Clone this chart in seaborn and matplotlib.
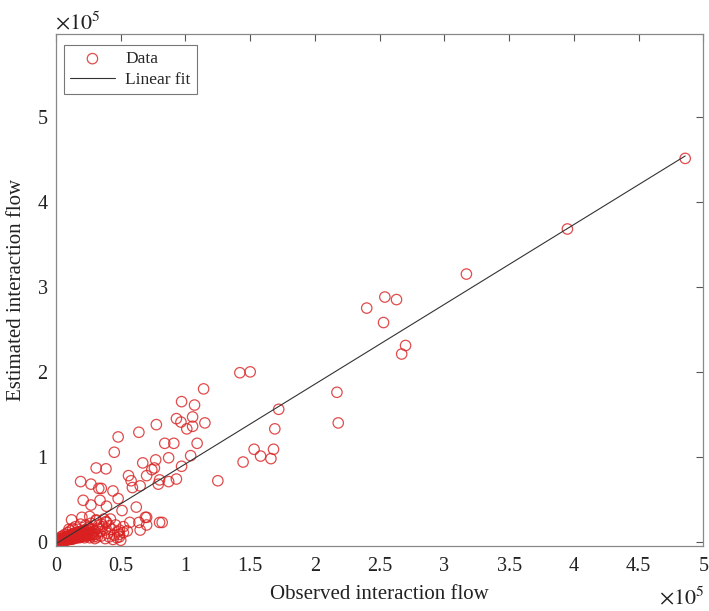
import numpy as np
import pandas as pd
import matplotlib
matplotlib.use("Agg")
import matplotlib.pyplot as plt
import seaborn as sns

# Values in units of 1e5
obs_outer = [4.86, 3.95, 3.17, 2.54, 2.63, 2.40, 2.53, 2.70, 2.67, 2.17, 2.18,
             1.42, 1.50, 1.14, 0.97, 1.07, 0.93, 0.965, 1.055, 1.01, 1.055, 1.15,
             1.72, 1.69, 0.775, 0.64, 0.48, 0.45, 0.84, 0.91, 1.09, 0.87, 1.04,
             0.97, 0.77, 0.67, 0.74, 0.76, 0.70, 0.56, 0.58, 0.59, 0.65, 0.79,
             0.87, 0.93, 0.80, 1.25, 1.445, 1.53, 1.58, 1.66, 1.68, 0.386, 0.35,
             0.44, 0.48, 0.62, 0.51, 0.39, 0.80, 0.82, 0.70, 0.64, 0.70, 0.65,
             0.57, 0.52, 0.49, 0.49, 0.31, 0.19, 0.27, 0.33, 0.21, 0.27, 0.34,
             0.12, 0.20, 0.26, 0.31, 0.386, 0.69]
est_outer = [4.51, 3.68, 3.15, 2.88, 2.85, 2.75, 2.58, 2.31, 2.21, 1.76, 1.40,
             1.99, 2.00, 1.80, 1.65, 1.61, 1.45, 1.41, 1.47, 1.33, 1.36, 1.40,
             1.56, 1.33, 1.38, 1.29, 1.235, 1.055, 1.16, 1.16, 1.16, 0.99, 1.015,
             0.89, 0.965, 0.93, 0.85, 0.87, 0.78, 0.78, 0.72, 0.64, 0.66, 0.68,
             0.71, 0.74, 0.73, 0.72, 0.94, 1.09, 1.01, 0.98, 1.09, 0.86, 0.63,
             0.60, 0.51, 0.41, 0.37, 0.42, 0.23, 0.23, 0.29, 0.23, 0.20, 0.14,
             0.23, 0.18, 0.06, 0.14, 0.87, 0.71, 0.68, 0.63, 0.49, 0.435, 0.49,
             0.26, 0.29, 0.30, 0.26, 0.24, 0.29]

obs_core = [0.00, 0.01, 0.01, 0.02, 0.02, 0.03, 0.03, 0.03, 0.04, 0.04, 0.05, 0.05,
            0.06, 0.06, 0.06, 0.07, 0.07, 0.08, 0.08, 0.09, 0.09, 0.10, 0.10, 0.11,
            0.11, 0.12, 0.12, 0.13, 0.13, 0.14, 0.14, 0.15, 0.15, 0.16, 0.16, 0.17,
            0.17, 0.18, 0.18, 0.19, 0.20, 0.20, 0.21, 0.22, 0.22, 0.23, 0.24, 0.25,
            0.26, 0.27, 0.28, 0.29, 0.30, 0.31, 0.32, 0.34, 0.35, 0.36, 0.38, 0.40,
            0.41, 0.43, 0.45, 0.46, 0.48, 0.50, 0.04, 0.02, 0.05, 0.07, 0.09, 0.11,
            0.13, 0.08, 0.10, 0.12, 0.14, 0.16, 0.18, 0.20, 0.22, 0.24, 0.26, 0.28,
            0.30, 0.32, 0.01, 0.00, 0.03, 0.05, 0.02, 0.06, 0.04, 0.15, 0.19, 0.23,
            0.27, 0.31, 0.35, 0.39, 0.42, 0.10, 0.17, 0.25, 0.33, 0.37, 0.44, 0.47,
            0.49, 0.52, 0.55, 0.38, 0.41]
est_core = [0.00, 0.00, 0.01, 0.01, 0.02, 0.01, 0.02, 0.03, 0.02, 0.03, 0.02, 0.04,
            0.03, 0.04, 0.05, 0.03, 0.05, 0.04, 0.06, 0.04, 0.06, 0.05, 0.07, 0.06,
            0.08, 0.05, 0.07, 0.06, 0.09, 0.07, 0.10, 0.08, 0.06, 0.09, 0.11, 0.07,
            0.10, 0.08, 0.12, 0.10, 0.09, 0.13, 0.11, 0.08, 0.14, 0.12, 0.10, 0.13,
            0.09, 0.15, 0.11, 0.06, 0.13, 0.09, 0.16, 0.12, 0.07, 0.18, 0.14, 0.10,
            0.19, 0.15, 0.08, 0.20, 0.12, 0.02, 0.06, 0.04, 0.07, 0.09, 0.11, 0.13,
            0.16, 0.02, 0.03, 0.03, 0.04, 0.05, 0.05, 0.06, 0.05, 0.07, 0.05, 0.08,
            0.04, 0.06, 0.02, 0.01, 0.00, 0.01, 0.00, 0.01, 0.01, 0.18, 0.21, 0.20,
            0.22, 0.25, 0.21, 0.23, 0.27, 0.15, 0.15, 0.17, 0.20, 0.27, 0.03, 0.05,
            0.09, 0.11, 0.13, 0.04, 0.06]

# extra points packed in the solid blob next to the origin
obs_blob = [0.005, 0.015, 0.025, 0.035, 0.045, 0.055, 0.065, 0.075, 0.085, 0.095,
            0.105, 0.115, 0.125, 0.135, 0.145, 0.155, 0.165, 0.175, 0.185, 0.195,
            0.205, 0.215, 0.01, 0.02, 0.03, 0.04, 0.05, 0.06, 0.07, 0.08, 0.09,
            0.10, 0.11, 0.12, 0.13, 0.14, 0.15, 0.16, 0.17, 0.18, 0.19, 0.21,
            0.23, 0.25, 0.27, 0.29, 0.015, 0.035, 0.055, 0.075, 0.095, 0.115,
            0.135, 0.155, 0.175, 0.195, 0.215, 0.235, 0.255]
est_blob = [0.005, 0.010, 0.015, 0.020, 0.025, 0.030, 0.035, 0.040, 0.045, 0.050,
            0.055, 0.060, 0.065, 0.070, 0.075, 0.080, 0.085, 0.090, 0.095, 0.100,
            0.105, 0.110, 0.000, 0.005, 0.005, 0.010, 0.015, 0.015, 0.020, 0.025,
            0.030, 0.030, 0.035, 0.040, 0.040, 0.045, 0.050, 0.055, 0.055, 0.060,
            0.065, 0.070, 0.075, 0.080, 0.085, 0.090, 0.015, 0.030, 0.045, 0.060,
            0.075, 0.085, 0.095, 0.105, 0.115, 0.125, 0.135, 0.140, 0.150]

fit_slope = 0.938
fit_intercept = -0.02

x_ticks = [0, 0.5, 1, 1.5, 2, 2.5, 3, 3.5, 4, 4.5, 5]
x_tick_labels = ["0", "0.5", "1", "1.5", "2", "2.5", "3", "3.5", "4", "4.5", "5"]
y_ticks = [0, 1, 2, 3, 4, 5]
y_tick_labels = ["0", "1", "2", "3", "4", "5"]

df = pd.DataFrame({"observed": obs_core + obs_blob + obs_outer,
                   "estimated": est_core + est_blob + est_outer})
x_fit = [0.0, max(df["observed"])]
fit_df = pd.DataFrame({"observed": x_fit,
                       "estimated": [fit_slope * v + fit_intercept for v in x_fit]})

sns.set_style("white")
plt.rcParams["font.family"] = ["Liberation Serif", "DejaVu Serif"]
plt.rcParams["mathtext.fontset"] = "stix"

fig = plt.figure(figsize=(7.09, 6.11), dpi=100)
ax = fig.add_axes([0.079, 0.106, 0.913, 0.838])

sns.scatterplot(data=df, x="observed", y="estimated", ax=ax, marker="o",
                s=56, facecolors="none", edgecolor=(0.85, 0.12, 0.12), linewidth=0.9,
                alpha=0.8, label="Data")
sns.lineplot(data=fit_df, x="observed", y="estimated", ax=ax, color="#333333",
             linewidth=0.8, label="Linear fit")

ax.set_xlim(0, 5)
ax.set_ylim(-0.05, 5.97)
ax.set_xticks(x_ticks)
ax.set_xticklabels(x_tick_labels)
ax.set_yticks(y_ticks)
ax.set_yticklabels(y_tick_labels)
ax.tick_params(direction="in", length=5, width=0.8, color="#555555",
               top=True, right=True, labelsize=14.5, labelcolor="#222222")
ax.tick_params(axis="x", pad=8)
ax.tick_params(axis="y", pad=6)
for sp in ax.spines.values():
    sp.set_visible(True)
    sp.set_color("#888888")
    sp.set_linewidth(0.9)

ax.set_xlabel("Observed interaction flow", fontsize=15, color="#222222", labelpad=6)
ax.set_ylabel("Estimated interaction flow", fontsize=15, color="#222222", labelpad=8)

leg = ax.legend(loc="upper left", bbox_to_anchor=(0.012, 0.979), borderaxespad=0,
                fontsize=12.5, frameon=True, fancybox=False, handlelength=2.6,
                borderpad=0.35, labelspacing=0.25, handletextpad=0.6)
leg.get_frame().set_edgecolor("#555555")
leg.get_frame().set_linewidth(0.8)

fig.text(0.078, 0.952, r"$\times10^{5}$", fontsize=16, ha="left", va="baseline",
         color="#222222")
fig.text(0.994, 0.010, r"$\times10^{5}$", fontsize=16, ha="right", va="baseline",
         color="#222222")

fig.savefig("out.png", dpi=100)
